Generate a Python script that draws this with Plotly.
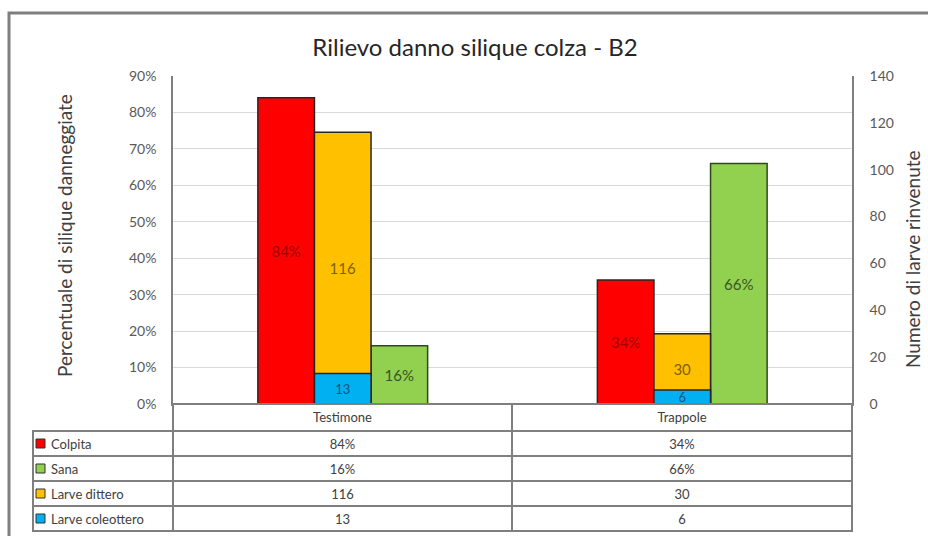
import plotly.graph_objects as go

W, H = 928, 536

categories = ["Testimone", "Trappole"]
colpita = [0.84, 0.34]
sana = [0.16, 0.66]
larve_dittero = [116, 30]
larve_coleottero = [13, 6]

series_names = ["Colpita", "Sana", "Larve dittero", "Larve coleottero"]
c_red, c_green, c_orange, c_blue = "#FF0000", "#92D050", "#FFC000", "#00B0F0"
key_colors = [c_red, c_green, c_orange, c_blue]

FONT = "Lato, Carlito, Calibri, sans-serif"
bw = 1 / 6

fig = go.Figure()

fig.add_trace(go.Bar(
    x=categories, y=colpita, name="Colpita", yaxis="y",
    width=bw, offset=-0.25,
    marker=dict(color=c_red, line=dict(color="#262626", width=1.5)),
    texttemplate="%{y:.0%}", textposition="inside", insidetextanchor="middle",
    textangle=0, constraintext="none",
    textfont=dict(family=FONT, size=15, color="#A00000"),
))
fig.add_trace(go.Bar(
    x=categories, y=larve_dittero, name="Larve dittero", yaxis="y2",
    width=bw, offset=-bw / 2,
    marker=dict(color=c_orange, line=dict(color="#262626", width=1.5)),
    texttemplate="%{y}", textposition="inside", insidetextanchor="middle",
    textangle=0, constraintext="none",
    textfont=dict(family=FONT, size=15, color="#7F6000"),
))
fig.add_trace(go.Bar(
    x=categories, y=larve_coleottero, name="Larve coleottero", yaxis="y2",
    width=bw, offset=-bw / 2,
    marker=dict(color=c_blue, line=dict(color="#262626", width=1.5)),
    texttemplate="%{y}", textposition="inside", insidetextanchor="middle",
    textangle=0, constraintext="none",
    textfont=dict(family=FONT, size=13, color="#1F4E79"),
))
fig.add_trace(go.Bar(
    x=categories, y=sana, name="Sana", yaxis="y",
    width=bw, offset=bw / 2,
    marker=dict(color=c_green, line=dict(color="#2E4A1A", width=1.5)),
    texttemplate="%{y:.0%}", textposition="inside", insidetextanchor="middle",
    textangle=0, constraintext="none",
    textfont=dict(family=FONT, size=15, color="#375623"),
))

# data table
NB = "\u00a0"
first_col = [NB * 3 + n for n in series_names]
col_t = [f"{colpita[0]:.0%}", f"{sana[0]:.0%}", str(larve_dittero[0]), str(larve_coleottero[0])]
col_p = [f"{colpita[1]:.0%}", f"{sana[1]:.0%}", str(larve_dittero[1]), str(larve_coleottero[1])]

TABLE_TOP = 404
HEADER_H = 27
ROW_H = 25

fig.add_trace(go.Table(
    domain=dict(x=[33 / W, 852 / W], y=[0, (H - TABLE_TOP) / H]),
    columnwidth=[140, 339, 340],
    header=dict(values=["", categories[0], categories[1]],
                fill_color=["rgba(0,0,0,0)", "white", "white"], height=HEADER_H,
                line=dict(color=["rgba(0,0,0,0)", "#7F7F7F", "#7F7F7F"], width=1.5),
                align=["left", "center", "center"],
                font=dict(family=FONT, size=13, color="#404040")),
    cells=dict(values=[first_col, col_t, col_p],
               fill_color="white", height=ROW_H,
               line=dict(color="#7F7F7F", width=1.5),
               align=["left", "center", "center"],
               font=dict(family=FONT, size=13, color="#404040")),
))

# legend keys in the table's first column
shapes = [dict(type="rect", xref="paper", yref="paper",
               x0=9 / W, x1=1.02, y0=-0.02, y1=(H - 13) / H,
               line=dict(color="#7F7F7F", width=3))]
for i, c in enumerate(key_colors):
    yc = TABLE_TOP + HEADER_H + ROW_H * i + ROW_H / 2
    shapes.append(dict(type="rect", xref="paper", yref="paper",
                       x0=36 / W, x1=45 / W,
                       y0=(H - (yc + 4.5)) / H, y1=(H - (yc - 4.5)) / H,
                       fillcolor=c, line=dict(color="#333333", width=1)))

fig.update_layout(
    width=W, height=H,
    margin=dict(l=0, r=0, t=0, b=0),
    paper_bgcolor="white", plot_bgcolor="white",
    barmode="overlay", showlegend=False,
    font=dict(family=FONT, color="#595959"),
    title=dict(text="Rilievo danno silique colza - B2", x=475 / W, y=(H - 48) / H,
               xanchor="center", yanchor="middle",
               font=dict(family=FONT, size=24, color="#262626")),
    xaxis=dict(domain=[173 / W, 852 / W], showticklabels=False, ticks="",
               showline=True, linecolor="#7F7F7F", linewidth=1.5, automargin=False),
    yaxis=dict(domain=[(H - 404) / H, (H - 76) / H], range=[0, 0.9], dtick=0.1,
               tickformat=".0%", showgrid=True, gridcolor="#D9D9D9", gridwidth=1,
               showline=True, linecolor="#7F7F7F", linewidth=1.5, zeroline=False,
               ticklabelstandoff=12, automargin=False,
               tickfont=dict(family=FONT, size=14, color="#595959")),
    yaxis2=dict(overlaying="y", side="right", range=[0, 140], dtick=20,
                showgrid=False, showline=True, linecolor="#7F7F7F", linewidth=1.5,
                zeroline=False, ticklabelstandoff=13, automargin=False,
                tickfont=dict(family=FONT, size=14, color="#595959")),
    annotations=[
        dict(text="Percentuale di silique danneggiate", xref="paper", yref="paper",
             x=64 / W, y=(H - 236) / H, showarrow=False, textangle=-90,
             xanchor="center", yanchor="middle",
             font=dict(family=FONT, size=19, color="#404040")),
        dict(text="Numero di larve rinvenute", xref="paper", yref="paper",
             x=912 / W, y=(H - 259) / H, showarrow=False, textangle=-90,
             xanchor="center", yanchor="middle",
             font=dict(family=FONT, size=19, color="#404040")),
    ],
    shapes=shapes,
)

fig.write_html("out.html")
